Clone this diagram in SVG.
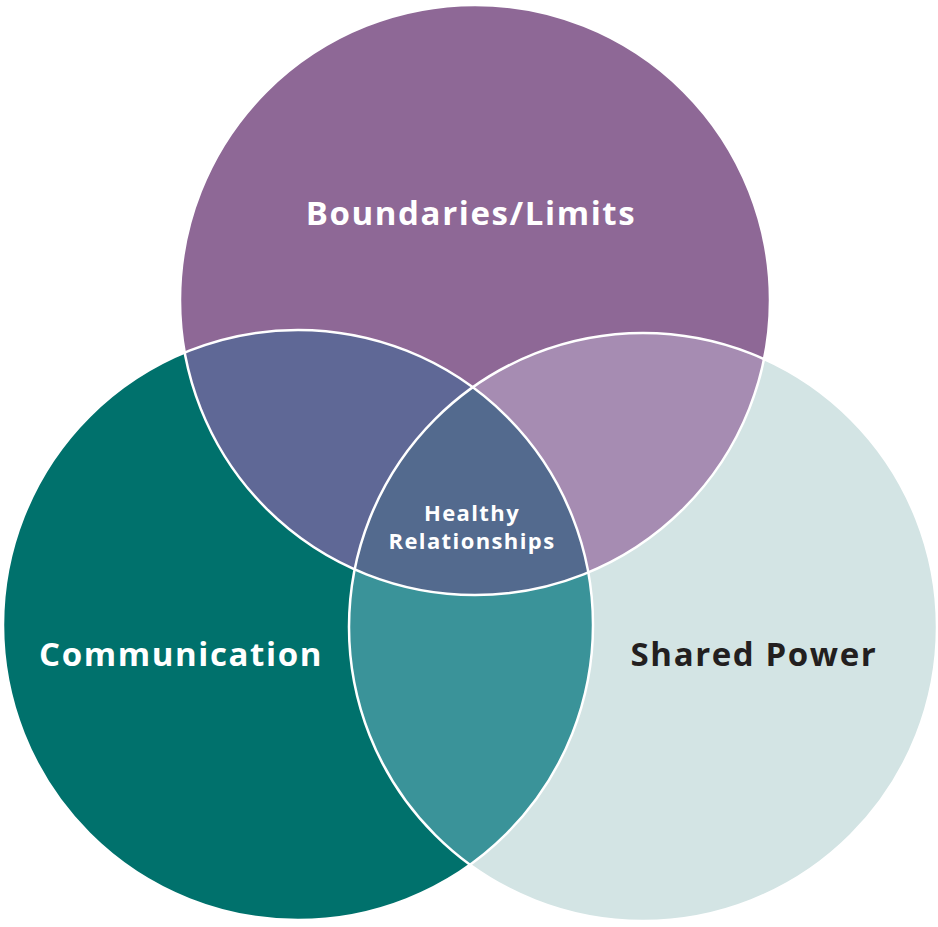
<svg xmlns="http://www.w3.org/2000/svg" width="938" height="927" viewBox="0 0 938 927">
<style>
.s{stroke:#fff;stroke-width:2.5}
.t{font-family:"Open Sans","Liberation Sans",sans-serif;font-weight:bold;text-anchor:middle}
.b{font-size:33px;letter-spacing:1.6px}
.h{font-size:22px;letter-spacing:1.4px;fill:#fff}
</style>
<defs>
<clipPath id="cT"><circle cx="475" cy="300" r="295"/></clipPath>
<clipPath id="cL"><circle cx="298" cy="625" r="295"/></clipPath>
<clipPath id="cR"><circle cx="643" cy="627" r="294"/></clipPath>
</defs>
<rect width="938" height="927" fill="#fff"/>
<g id="top"><circle cx="475" cy="300" r="295" fill="#8e6896"/></g>
<g id="left"><circle cx="298" cy="625" r="295" fill="#00716c"/></g>
<g id="right"><circle cx="643" cy="627" r="294" fill="#d3e4e4"/></g>
<g id="overlaps">
<circle cx="298" cy="625" r="295" fill="#5f6896" clip-path="url(#cT)"/>
<circle cx="643" cy="627" r="294" fill="#a68cb2" clip-path="url(#cT)"/>
<circle cx="643" cy="627" r="294" fill="#3a9399" clip-path="url(#cL)"/>
<g clip-path="url(#cT)"><circle cx="298" cy="625" r="295" fill="#536a8e" clip-path="url(#cR)"/></g>
</g>
<g id="outlines" fill="none">
<circle class="s" cx="475" cy="300" r="295"/>
<circle class="s" cx="298" cy="625" r="295"/>
<circle class="s" cx="643" cy="627" r="294"/>
</g>
<text class="t b" x="471" y="225" fill="#fff">Boundaries/Limits</text>
<text class="t b" x="181" y="666" fill="#fff">Communication</text>
<text class="t b" x="754" y="666" fill="#231f20">Shared Power</text>
<text class="t h" x="472" y="521">Healthy</text>
<text class="t h" x="472" y="549">Relationships</text>
</svg>
